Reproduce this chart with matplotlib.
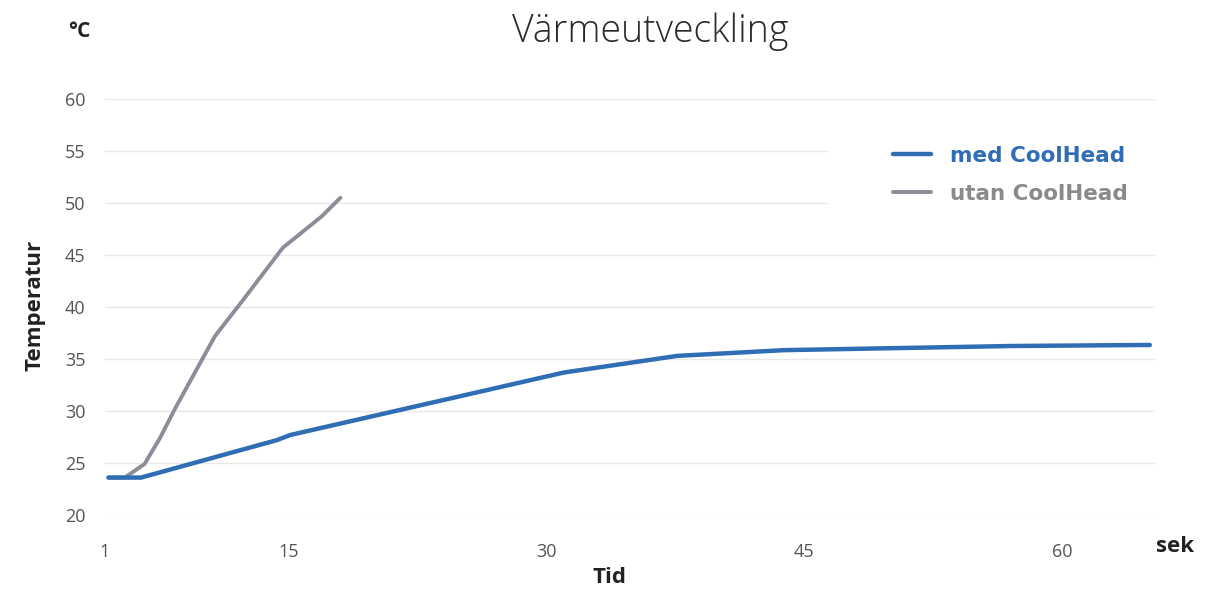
import matplotlib
matplotlib.use("Agg")
import matplotlib.pyplot as plt
from matplotlib.patches import Rectangle

plt.rcParams['font.family'] = ['Open Sans', 'DejaVu Sans']

# tid (sek) och temperatur (°C)
med_tid = [4.5, 6.4, 14.3, 15.1, 31.0, 37.6, 43.8, 57.0, 65.1]
med_temp = [23.6, 23.6, 27.2, 27.7, 33.7, 35.3, 35.85, 36.25, 36.35]

utan_tid = [4.5, 5.45, 6.6, 7.5, 8.4, 9.5, 10.7, 12.3, 14.65, 16.9, 18.0]
utan_temp = [23.6, 23.6, 24.9, 27.4, 30.3, 33.6, 37.2, 40.6, 45.7, 48.7, 50.5]

x_ticks = [4.3, 15, 30, 45, 60]
x_labels = ['1', '15', '30', '45', '60']
y_ticks = [20, 25, 30, 35, 40, 45, 50, 55, 60]

blue = '#2f6db5'
grey = '#8b8e98'

fig = plt.figure(figsize=(12.15, 5.9), dpi=100)
ax = fig.add_axes([0.0864, 0.1271, 0.8642, 0.7051])

ax.plot(utan_tid, utan_temp, color=grey, lw=2.8, solid_capstyle='round',
        label='utan CoolHead', zorder=3)
ax.plot(med_tid, med_temp, color=blue, lw=3.2, solid_capstyle='round',
        label='med CoolHead', zorder=4)

ax.set_xlim(4.3, 65.4)
ax.set_ylim(20, 60)
ax.set_xticks(x_ticks)
ax.set_xticklabels(x_labels)
ax.set_yticks(y_ticks)
ax.tick_params(length=0, labelsize=13, labelcolor='#555555')
ax.tick_params(axis='x', pad=20)
ax.tick_params(axis='y', pad=14)
ax.grid(axis='y', color='#e8e8e8', lw=1)
ax.set_axisbelow(True)
for s in ax.spines.values():
    s.set_visible(False)

# white area behind the legend hides the grid there
ax.add_patch(Rectangle((0.689, 0.66), 0.32, 0.30, transform=ax.transAxes,
                       facecolor='white', edgecolor='none', zorder=1.5,
                       clip_on=False))

h, l = ax.get_legend_handles_labels()
leg = ax.legend(h[::-1], l[::-1], loc='upper left', bbox_to_anchor=(0.7505, 0.887),
                frameon=False, borderpad=0, borderaxespad=0, handlelength=1.77,
                handletextpad=0.88, labelspacing=0.82,
                prop={'family': 'DejaVu Sans', 'size': 15.5, 'weight': 'bold'})
leg.get_texts()[0].set_color(blue)
leg.get_texts()[1].set_color('#8a8a8a')
leg.set_zorder(5)

fig.text(0.535, 0.946, 'Värmeutveckling', ha='center', va='center',
         fontsize=27, fontweight='light', color='#2a2a2a')
fig.text(0.065, 0.946, '°C', ha='center', va='center', fontsize=15,
         fontweight='bold', color='#222222')
fig.text(0.029, 0.483, 'Temperatur', rotation=90, ha='center', va='center',
         fontsize=16, fontweight='bold', color='#222222')
fig.text(0.502, 0.022, 'Tid', ha='center', va='center', fontsize=16,
         fontweight='bold', color='#222222')
fig.text(0.967, 0.073, 'sek', ha='center', va='center', fontsize=16,
         fontweight='bold', color='#222222')

fig.savefig('out.png', dpi=100, facecolor='white')
